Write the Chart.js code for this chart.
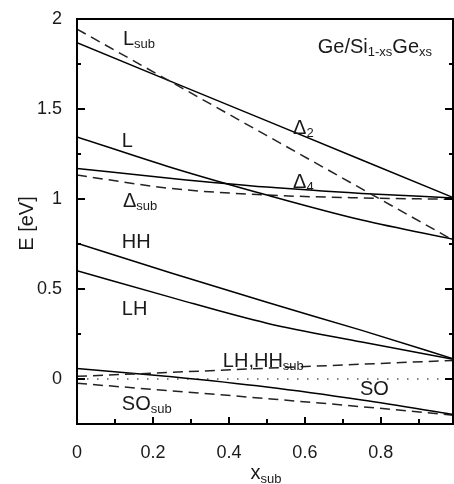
<!DOCTYPE html>
<html>
<head>
<meta charset="utf-8">
<title>Ge/SiGe band edges</title>
<script src="https://cdn.jsdelivr.net/npm/chart.js@4.4.1/dist/chart.umd.min.js"></script>
<style>
  html, body { margin: 0; padding: 0; background: #fff; }
  #wrap { width: 454px; height: 484px; }
</style>
</head>
<body>
<div id="wrap"><canvas id="bands"></canvas></div>
<script>
// substrate Ge content
const xs = [0, 0.25, 0.5, 0.75, 1];

// band energies (eV) at each xs
const Lsub    = [1.944, 1.648, 1.352, 1.056, 0.76];
const Delta2  = [1.868, 1.651, 1.434, 1.217, 1.0];
const Lband   = [1.345, 1.174, 1.022, 0.883, 0.772];
const Delta4  = [1.17, 1.114, 1.066, 1.031, 1.005];
const DeltaSub= [1.133, 1.058, 1.022, 1.006, 0.998];
const HH      = [0.754, 0.588, 0.426, 0.27, 0.106];
const LH      = [0.602, 0.452, 0.31, 0.205, 0.106];
const LHHHsub = [0.015, 0.037, 0.06, 0.082, 0.104];
const SO      = [0.059, 0.012, -0.045, -0.117, -0.2];
const SOsub   = [-0.024, -0.066, -0.109, -0.154, -0.203];
const zeroLine = [0, 0, 0, 0, 0];

const xTicks = [0, 0.2, 0.4, 0.6, 0.8];
const yTicks = [0, 0.5, 1, 1.5, 2];

const FONT = '"Liberation Sans", Arial, sans-serif';
const TXT = '#1a1a1a';

function pts(ys) {
  return ys.map((y, i) => ({ x: xs[i], y: y }));
}

function solid(ys, curved) {
  return {
    data: pts(ys), borderColor: '#000', borderWidth: 1.5,
    pointRadius: 0, tension: 0,
    cubicInterpolationMode: curved ? 'monotone' : 'default'
  };
}
function dashed(ys, curved) {
  const d = solid(ys, curved);
  d.borderColor = '#222';
  d.borderDash = [10, 6];
  return d;
}

const dotted = {
  data: pts(zeroLine), borderColor: '#000', borderWidth: 1.2,
  borderDash: [1.5, 8.5], pointRadius: 0
};

// text labels: [x, E, parts] where parts is a list of [text, isSubscript]
const labels = [
  [0.121, 1.856, [['L', 0], ['sub', 1]]],
  [0.634, 1.811, [['Ge/Si', 0], ['1-xs', 1], ['Ge', 0], ['xs', 1]]],
  [0.569, 1.361, [['\u0394', 0], ['2', 1]]],
  [0.118, 1.289, [['L', 0]]],
  [0.569, 1.061, [['\u0394', 0], ['4', 1]]],
  [0.121, 0.956, [['\u0394', 0], ['sub', 1]]],
  [0.118, 0.728, [['HH', 0]]],
  [0.118, 0.356, [['LH', 0]]],
  [0.384, 0.067, [['LH,HH', 0], ['sub', 1]]],
  [0.745, -0.089, [['SO', 0]]],
  [0.118, -0.172, [['SO', 0], ['sub', 1]]]
];

function drawParts(ctx, x, y, parts, size, subSize, subDrop) {
  parts.forEach(p => {
    ctx.font = (p[1] ? subSize : size) + 'px ' + FONT;
    ctx.fillText(p[0], x, p[1] ? y + subDrop : y);
    x += ctx.measureText(p[0]).width;
  });
}

const framePlugin = {
  id: 'frame',
  afterDraw(chart) {
    const ctx = chart.ctx;
    const a = chart.chartArea;
    const sx = chart.scales.x, sy = chart.scales.y;
    ctx.save();
    ctx.strokeStyle = '#000';
    ctx.lineWidth = 2;
    ctx.strokeRect(a.left, a.top, a.right - a.left, a.bottom - a.top);

    // inward ticks
    ctx.lineWidth = 2;
    ctx.beginPath();
    for (let v = 0; v <= 0.95; v += 0.1) {
      const px = Math.round(sx.getPixelForValue(v));
      const major = Math.round(v * 10) % 2 === 0;
      ctx.moveTo(px, a.bottom);
      ctx.lineTo(px, a.bottom - (major ? 7 : 5));
    }
    for (let v = -0.25; v <= 2.001; v += 0.25) {
      const py = Math.round(sy.getPixelForValue(v));
      const major = Math.abs(v * 2 - Math.round(v * 2)) < 0.01;
      const len = major ? 8 : 4;
      ctx.moveTo(a.left, py);
      ctx.lineTo(a.left + len, py);
      ctx.moveTo(a.right, py);
      ctx.lineTo(a.right - len, py);
    }
    ctx.stroke();

    // curve labels
    ctx.fillStyle = TXT;
    ctx.textBaseline = 'alphabetic';
    ctx.textAlign = 'left';
    labels.forEach(l => {
      drawParts(ctx, sx.getPixelForValue(l[0]), sy.getPixelForValue(l[1]), l[2], 20, 13, 3);
    });

    // axis titles
    ctx.font = '20px ' + FONT;
    const xw = ctx.measureText('x').width;
    ctx.font = '13px ' + FONT;
    const sw = ctx.measureText('sub').width;
    const cx = (a.left + a.right) / 2;
    drawParts(ctx, cx - (xw + sw) / 2 + 1, 479, [['x', 0], ['sub', 1]], 20, 13, 4);

    ctx.translate(33, (a.top + a.bottom) / 2 + 2);
    ctx.rotate(-Math.PI / 2);
    ctx.textAlign = 'center';
    ctx.font = '20px ' + FONT;
    ctx.fillText('E [eV]', 0, 0);
    ctx.restore();
  }
};

new Chart(document.getElementById('bands'), {
  type: 'line',
  data: {
    datasets: [
      dashed(Lsub, false),
      solid(Delta2, false),
      solid(Lband, true),
      solid(Delta4, true),
      dashed(DeltaSub, true),
      solid(HH, true),
      solid(LH, true),
      dashed(LHHHsub, false),
      dotted,
      solid(SO, true),
      dashed(SOsub, true)
    ]
  },
  options: {
    responsive: true,
    maintainAspectRatio: false,
    animation: false,
    layout: { padding: { top: 19, right: 1, left: 0, bottom: 0 } },
    plugins: { legend: { display: false }, tooltip: { enabled: false } },
    scales: {
      x: {
        type: 'linear', min: 0, max: 0.99,
        grid: { display: false },
        border: { display: false },
        afterBuildTicks: s => { s.ticks = xTicks.map(v => ({ value: v })); },
        afterFit: s => { s.height = 60; },
        ticks: {
          color: TXT, padding: 10, maxRotation: 0,
          font: { family: FONT, size: 18 },
          callback: v => String(v)
        }
      },
      y: {
        type: 'linear', min: -0.25, max: 2,
        grid: { display: false },
        border: { display: false },
        afterBuildTicks: s => { s.ticks = yTicks.map(v => ({ value: v })); },
        afterFit: s => { s.width = 77; },
        ticks: {
          color: TXT, padding: 7,
          font: { family: FONT, size: 18 },
          callback: v => String(v)
        }
      }
    }
  },
  plugins: [framePlugin]
});
</script>
</body>
</html>
